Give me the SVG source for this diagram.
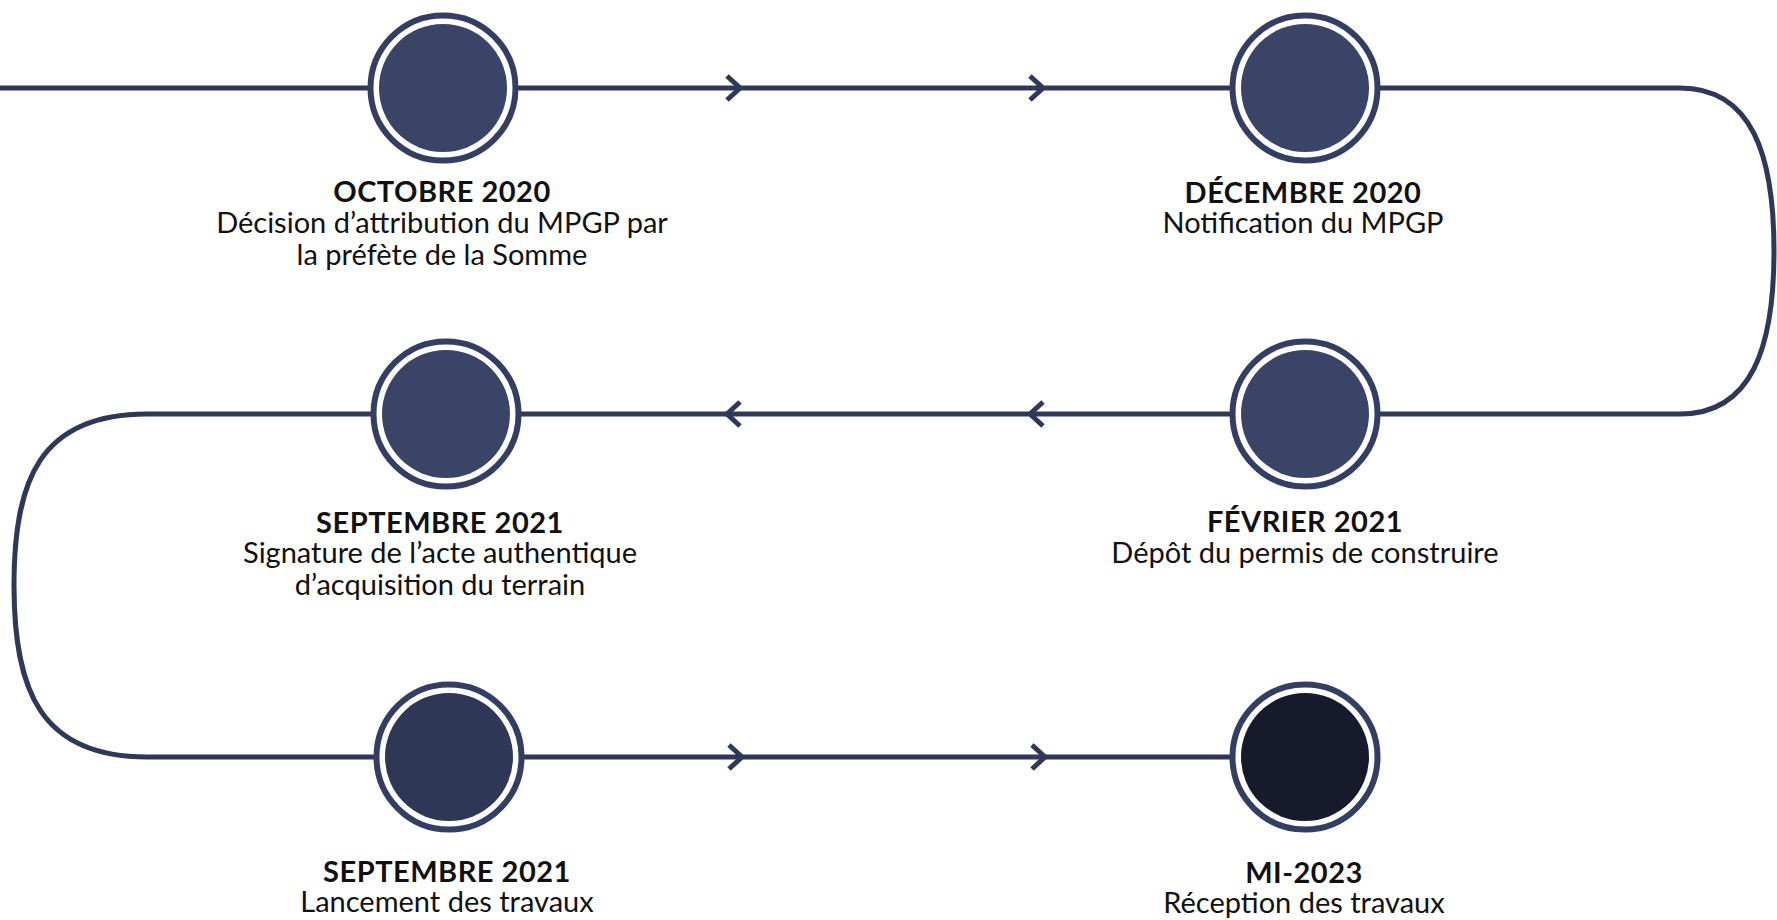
<svg xmlns="http://www.w3.org/2000/svg" width="1777" height="920" viewBox="0 0 1777 920">
<style>
.line{fill:none;stroke:#2f3858;stroke-width:5}
.chev{fill:none;stroke:#2f3858;stroke-width:5;stroke-linejoin:miter}
.ring{fill:#fff;stroke:#343d62;stroke-width:6}
.core{fill:#3a4466}
.title{font-family:Lato,"Noto Sans",sans-serif;font-weight:700;font-size:29px;fill:#111;text-anchor:middle;letter-spacing:0.5px}
.body{font-family:Lato,"Noto Sans",sans-serif;font-size:29px;fill:#111;text-anchor:middle}
</style>
<rect width="1777" height="920" fill="#fff"/>
<g id="connectors">
<path class="line" d="M0,88 L1680,88 C1752,88 1774,155 1774,251 C1774,347 1752,414 1680,414 L147,414 C40,414 14,480 14,585 C14,690 40,757 147,757 L1305,757"/>
<path class="chev" d="M727,76 L740,88 L727,100"/>
<path class="chev" d="M1030,76 L1043,88 L1030,100"/>
<path class="chev" d="M740,402 L727,414 L740,426"/>
<path class="chev" d="M1043,402 L1030,414 L1043,426"/>
<path class="chev" d="M729,745 L742,757 L729,769"/>
<path class="chev" d="M1032,745 L1045,757 L1032,769"/>
</g>
<g id="node-octobre-2020">
<circle class="ring" cx="443" cy="88" r="72.5"/>
<circle class="core" cx="443" cy="88" r="64"/>
<text class="title" x="442" y="202">OCTOBRE 2020</text>
<text class="body" x="442" y="233">Décision d’attribution du MPGP par</text>
<text class="body" x="442" y="265">la préfète de la Somme</text>
</g>
<g id="node-decembre-2020">
<circle class="ring" cx="1305" cy="88" r="72.5"/>
<circle class="core" cx="1305" cy="88" r="64"/>
<text class="title" x="1303" y="203">DÉCEMBRE 2020</text>
<text class="body" x="1303" y="233">Notification du MPGP</text>
</g>
<g id="node-fevrier-2021">
<circle class="ring" cx="1305" cy="414" r="72.5"/>
<circle class="core" cx="1305" cy="414" r="64"/>
<text class="title" x="1305" y="532">FÉVRIER 2021</text>
<text class="body" x="1305" y="563">Dépôt du permis de construire</text>
</g>
<g id="node-septembre-2021-a">
<circle class="ring" cx="446" cy="414" r="72.5"/>
<circle class="core" cx="446" cy="414" r="64"/>
<text class="title" x="440" y="533">SEPTEMBRE 2021</text>
<text class="body" x="440" y="563">Signature de l’acte authentique</text>
<text class="body" x="440" y="595">d’acquisition du terrain</text>
</g>
<g id="node-septembre-2021-b">
<circle class="ring" cx="449" cy="757" r="72.5"/>
<circle cx="449" cy="757" r="64" fill="#2f3756"/>
<text class="title" x="447" y="882">SEPTEMBRE 2021</text>
<text class="body" x="447" y="912">Lancement des travaux</text>
</g>
<g id="node-mi-2023">
<circle class="ring" cx="1305" cy="757" r="72.5"/>
<circle cx="1305" cy="757" r="64" fill="#171a2a"/>
<text class="title" x="1304" y="883">MI-2023</text>
<text class="body" x="1304" y="913">Réception des travaux</text>
</g>
</svg>
